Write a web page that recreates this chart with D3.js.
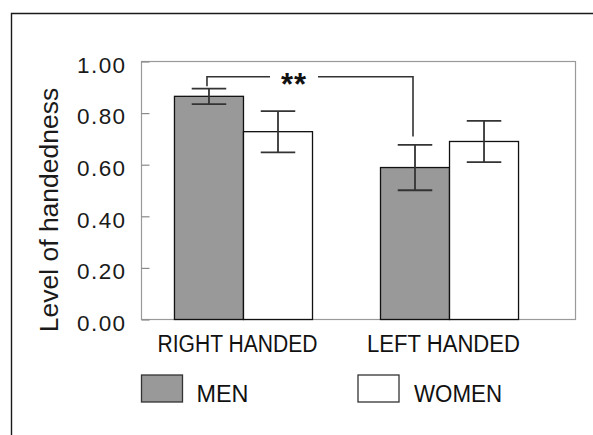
<!DOCTYPE html>
<html>
<head>
<meta charset="utf-8">
<script src="https://cdn.jsdelivr.net/npm/d3@7"></script>
<style>
  body { margin: 0; background: #fff; }
  svg { display: block; font-family: "Liberation Sans", Arial, sans-serif; }
</style>
</head>
<body>
<div id="chart"></div>
<script>
// data
var groups = ["RIGHT HANDED", "LEFT HANDED"];
var series = ["MEN", "WOMEN"];
var menValues = [0.865, 0.589];
var menErrors = [0.030, 0.088];
var womenValues = [0.728, 0.690];
var womenErrors = [0.080, 0.080];
var yTicks = [0.00, 0.20, 0.40, 0.60, 0.80, 1.00];
// significance bracket: level of the bar and the ends of both legs
var sigLabel = "**";
var sigLevel = 0.941;
var sigEnds = [0.904, 0.709];

// chart size
var width = 593, height = 435;
var frame = {left: 141.5, top: 61.5, right: 575.5, bottom: 319.5};
var barsRight = 551.5;

var colors = {MEN: "#999999", WOMEN: "#ffffff"};

var svg = d3.select("#chart").append("svg")
    .attr("width", width)
    .attr("height", height);

// outer border, only the top and left edges are in view
svg.append("path")
    .attr("d", "M11.5," + height + "V13.5H" + width)
    .attr("fill", "none")
    .attr("stroke", "#1a1a1a")
    .attr("stroke-width", 1.4);

// scales
var x0 = d3.scaleBand().domain(groups)
    .range([frame.left, barsRight])
    .paddingInner(0.33)
    .paddingOuter(0.16);
var x1 = d3.scaleBand().domain(series).range([0, x0.bandwidth()]);
var y = d3.scaleLinear().domain([0, 1]).range([frame.bottom, frame.top]);

// plot frame
svg.append("rect")
    .attr("x", frame.left)
    .attr("y", frame.top)
    .attr("width", frame.right - frame.left)
    .attr("height", frame.bottom - frame.top)
    .attr("fill", "none")
    .attr("stroke", "#9a9a9a")
    .attr("stroke-width", 1.2);

// y axis, ticks point inwards
var yAxis = d3.axisRight(y)
    .tickValues(yTicks)
    .tickSize(8)
    .tickFormat(d3.format(".2f"));

var yg = svg.append("g")
    .attr("transform", "translate(" + frame.left + ",0)")
    .call(yAxis);
yg.select(".domain").remove();
yg.selectAll(".tick line").attr("stroke", "#8a8a8a").attr("stroke-width", 1.2);
yg.selectAll(".tick text")
    .attr("x", -15)
    .attr("dy", "0.48em")
    .attr("text-anchor", "end")
    .attr("fill", "#1a1a1a")
    .style("font-size", "22.5px")
    .style("letter-spacing", "1.4px")
    .style("font-family", "Liberation Sans, Arial, sans-serif");

// y title
svg.append("text")
    .attr("transform", "translate(58," + 210 + ") rotate(-90)")
    .attr("text-anchor", "middle")
    .attr("fill", "#1a1a1a")
    .style("font-size", "26.5px")
    .text("Level of handedness");

// bars table
var rows = [];
groups.forEach(function(g, i) {
    rows.push({group: g, key: "MEN", value: menValues[i], err: menErrors[i]});
    rows.push({group: g, key: "WOMEN", value: womenValues[i], err: womenErrors[i]});
});

var bars = svg.append("g");
bars.selectAll("rect")
    .data(rows)
    .enter().append("rect")
    .attr("x", function(d) { return x0(d.group) + x1(d.key); })
    .attr("y", function(d) { return y(d.value); })
    .attr("width", x1.bandwidth())
    .attr("height", function(d) { return y(0) - y(d.value); })
    .attr("fill", function(d) { return colors[d.key]; })
    .attr("stroke", "#111")
    .attr("stroke-width", 1.3);

// error bars
var capW = x1.bandwidth() / 2;
var errs = svg.append("g")
    .attr("stroke", "#333")
    .attr("stroke-width", 1.8);
rows.forEach(function(d) {
    var cx = x0(d.group) + x1(d.key) + x1.bandwidth() / 2;
    var hi = y(d.value + d.err), lo = y(d.value - d.err);
    errs.append("line").attr("x1", cx).attr("x2", cx).attr("y1", hi).attr("y2", lo);
    errs.append("line").attr("x1", cx - capW / 2).attr("x2", cx + capW / 2).attr("y1", hi).attr("y2", hi);
    errs.append("line").attr("x1", cx - capW / 2).attr("x2", cx + capW / 2).attr("y1", lo).attr("y2", lo);
});

// significance bracket between the two MEN bars
var bx = groups.map(function(g) { return x0(g) + x1("MEN") + x1.bandwidth() / 2 - 2; });
var by = y(sigLevel);
var midX = (bx[0] + bx[1]) / 2 - 16;
var gapHalf = 24;
svg.append("path")
    .attr("d", "M" + bx[0] + "," + y(sigEnds[0]) + "V" + by + "H" + (midX - gapHalf) +
               "M" + (midX + gapHalf) + "," + by + "H" + bx[1] + "V" + y(sigEnds[1]))
    .attr("fill", "none")
    .attr("stroke", "#333")
    .attr("stroke-width", 1.6);
svg.append("text")
    .attr("x", midX)
    .attr("y", by + 18)
    .attr("text-anchor", "middle")
    .attr("fill", "#111")
    .style("font-size", "31px")
    .style("font-weight", "bold")
    .style("letter-spacing", "1px")
    .text(sigLabel);

// group labels
var labelW = [160, 153];
svg.append("g").selectAll("text")
    .data(groups)
    .enter().append("text")
    .attr("x", function(d) { return x0(d) + x0.bandwidth() / 2 - 6; })
    .attr("y", 352)
    .attr("text-anchor", "middle")
    .attr("fill", "#111")
    .attr("textLength", function(d, i) { return labelW[i]; })
    .attr("lengthAdjust", "spacingAndGlyphs")
    .style("font-size", "23.5px")
    .text(function(d) { return d; });

// legend
var legX = [141.5, 358];
var legendW = [52, 88];
var leg = svg.append("g").selectAll("g")
    .data(series)
    .enter().append("g")
    .attr("transform", function(d, i) { return "translate(" + legX[i] + ",375)"; });
leg.append("rect")
    .attr("width", 41)
    .attr("height", 27)
    .attr("fill", function(d) { return colors[d]; })
    .attr("stroke", "#333")
    .attr("stroke-width", 1.3);
leg.append("text")
    .attr("x", function(d, i) { return i === 0 ? 55 : 56; })
    .attr("y", 27)
    .attr("fill", "#111")
    .attr("textLength", function(d, i) { return legendW[i]; })
    .attr("lengthAdjust", "spacingAndGlyphs")
    .style("font-size", "24px")
    .text(function(d) { return d; });
</script>
</body>
</html>
